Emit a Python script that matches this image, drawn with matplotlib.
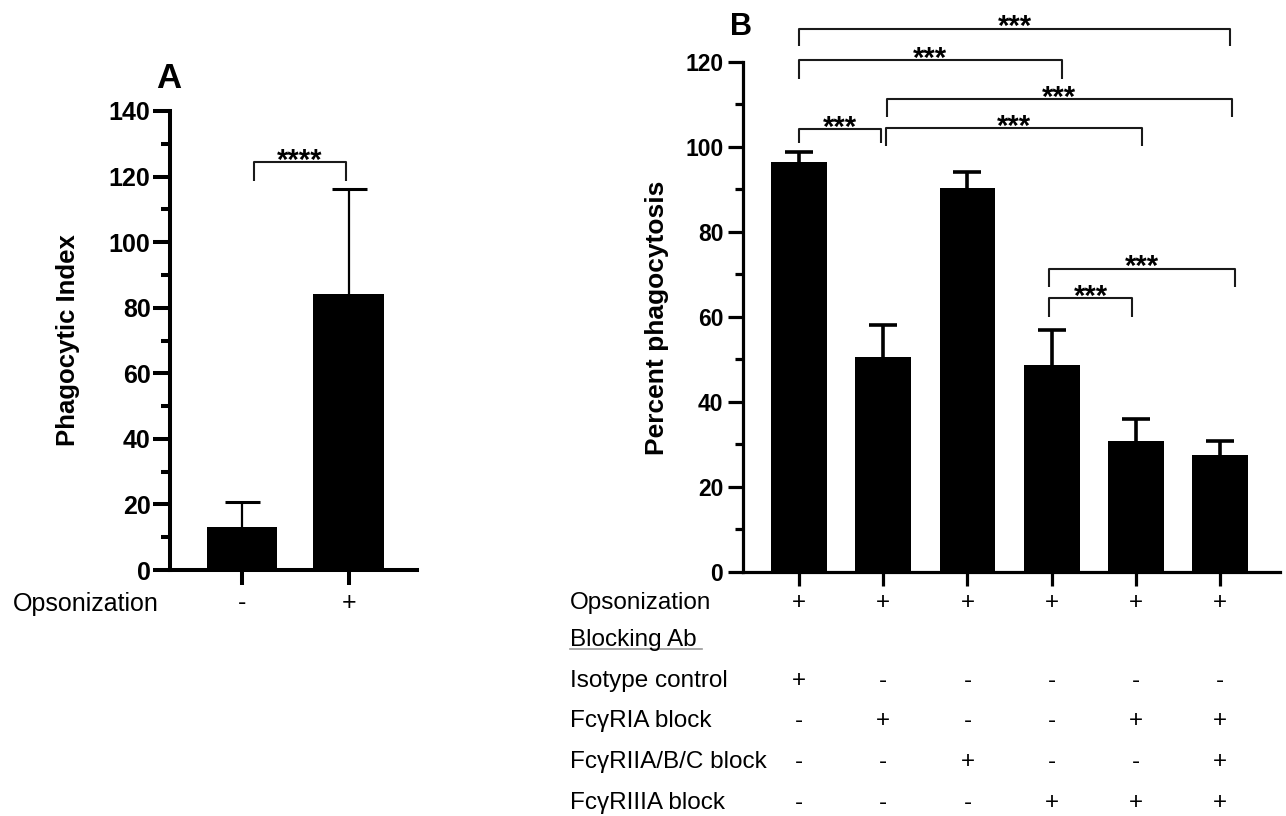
import numpy as np
import matplotlib
matplotlib.use("Agg")
import matplotlib.pyplot as plt
from matplotlib import transforms
from matplotlib.lines import Line2D
from matplotlib.ticker import MultipleLocator

plt.rcParams['font.family'] = ['Liberation Sans', 'DejaVu Sans']

W, H = 1286, 816

# ---- panel A data
a_cols = ['-', '+']
a_mean = [13.0, 84.3]
a_err = [7.6, 31.8]
a_pairs = [(0.11, 0.97)]
a_line_y = [124.5]
a_leg_y = [118.6]
a_stars = ['****']

# ---- panel B data
b_mean = [96.4, 50.5, 90.3, 48.6, 30.8, 27.5]
b_err = [2.4, 7.6, 3.7, 8.2, 5.1, 3.3]
b_rows = ['Opsonization', 'Blocking Ab', 'Isotype control', 'Fc\u03b3RIA block',
          'Fc\u03b3RIIA/B/C block', 'Fc\u03b3RIIIA block']
b_table = [
    ['+', '+', '+', '+', '+', '+'],
    ['', '', '', '', '', ''],
    ['+', '-', '-', '-', '-', '-'],
    ['-', '+', '-', '-', '+', '+'],
    ['-', '-', '+', '-', '-', '+'],
    ['-', '-', '-', '+', '+', '+'],
]
b_pairs = [(0, 5.12), (0, 3.12), (1.04, 5.14), (0, 0.97), (1.03, 4.07), (2.97, 5.17), (2.97, 3.95)]
b_line_y = [127.8, 120.3, 111.2, 104.2, 104.4, 71.3, 64.3]
b_leg_y = [123.7, 116.0, 107.0, 100.9, 100.2, 67.0, 60.0]
b_stars = ['***'] * 7

fig = plt.figure(figsize=(W / 100, H / 100), dpi=100)


def px_axes(l, t, r, b):
    return fig.add_axes([l / W, 1 - b / H, (r - l) / W, (b - t) / H])


def style(ax, ymax, lw, ticksize, major_len, minor_len, pad):
    for s in ['top', 'right']:
        ax.spines[s].set_visible(False)
    for s in ['left', 'bottom']:
        ax.spines[s].set_linewidth(lw)
    ax.set_ylim(0, ymax)
    ax.set_yticks(np.arange(0, ymax + 1, 20))
    ax.yaxis.set_minor_locator(MultipleLocator(10))
    ax.tick_params(axis='y', which='major', length=major_len, width=lw,
                   labelsize=ticksize, pad=pad)
    ax.tick_params(axis='y', which='minor', length=minor_len, width=lw)
    ax.tick_params(axis='x', length=major_len - 1, width=lw)
    for lbl in ax.get_yticklabels():
        lbl.set_fontweight('bold')


def up_errorbar(ax, x, mean, err, **kw):
    # prism style: only the upper whisker and cap
    eb = ax.errorbar(x, mean, yerr=[np.zeros(len(err)), err], fmt='none',
                     ecolor='black', zorder=1, **kw)
    for cl in eb[1]:
        if np.allclose(cl.get_ydata(), mean):
            cl.set_visible(False)


def brackets(ax, pairs, line_y, leg_y, stars, lw):
    for (x0, x1), yl, yb, s in zip(pairs, line_y, leg_y, stars):
        ax.plot([x0, x0, x1, x1], [yb, yl, yl, yb], color='#1a1a1a', lw=lw,
                clip_on=False, solid_capstyle='butt')
        ax.annotate(s, xy=((x0 + x1) / 2, yl), xytext=(0, 7.5 - 0.585 * 21),
                    textcoords='offset points', ha='center', va='baseline',
                    fontsize=21, fontweight='bold', annotation_clip=False)


# ---- Panel A
axA = px_axes(170, 111, 417, 570)
xa = np.arange(len(a_mean))
axA.bar(xa, a_mean, width=0.663, color='black', zorder=2)
up_errorbar(axA, xa, a_mean, a_err, elinewidth=1.6, capsize=12.6, capthick=2.2)
axA.set_xlim(-0.675, 1.64)
style(axA, 140, 2.9, 18, 12, 6.5, 2)
axA.set_xticks(xa)
axA.set_xticklabels([])
brackets(axA, a_pairs, a_line_y, a_leg_y, a_stars, 1.5)

trA = transforms.blended_transform_factory(axA.transData, fig.transFigure)
for x, s in zip(xa, a_cols):
    axA.text(x, 1 - 610.5 / H, s, transform=trA, ha='center', va='baseline', fontsize=18)
fig.text(13 / W, 1 - 610.5 / H, 'Opsonization', ha='left', va='baseline', fontsize=18)
fig.text(68 / W, 1 - 340 / H, 'Phagocytic Index', rotation=90, ha='center',
         va='center', fontsize=18.5, fontweight='bold')
fig.text(169 / W, 1 - 88 / H, 'A', ha='center', va='baseline', fontsize=25,
         fontweight='bold')

# ---- Panel B
axB = px_axes(742.7, 61.7, 1280, 571.7)
xb = np.arange(len(b_mean))
axB.bar(xb, b_mean, width=0.66, color='black', zorder=2)
up_errorbar(axB, xb, b_mean, b_err, elinewidth=2.6, capsize=10.4, capthick=2.6)
axB.set_xlim(-0.668, 5.71)
style(axB, 120, 2.3, 16.5, 11, 6, 3)
axB.set_xticks(xb)
axB.set_xticklabels([])
brackets(axB, b_pairs, b_line_y, b_leg_y, b_stars, 1.5)

trB = transforms.blended_transform_factory(axB.transData, fig.transFigure)
row_base = [609, 646, 687, 727, 768, 809]
for row, base, vals in zip(b_rows, row_base, b_table):
    fig.text(570 / W, 1 - base / H, row, ha='left', va='baseline', fontsize=17.5)
    for x, s in zip(xb, vals):
        if s:
            axB.text(x, 1 - base / H, s, transform=trB, ha='center', va='baseline',
                     fontsize=17.5)
fig.add_artist(Line2D([570 / W, 702 / W], [1 - 649 / H, 1 - 649 / H],
                      color='#9a9a9a', lw=1.2))
fig.text(656.7 / W, 1 - 318 / H, 'Percent phagocytosis', rotation=90, ha='center',
         va='center', fontsize=19, fontweight='bold')
fig.text(741 / W, 1 - 35 / H, 'B', ha='center', va='baseline', fontsize=22,
         fontweight='bold')

fig.savefig('out.png', dpi=100)
plt.close(fig)
